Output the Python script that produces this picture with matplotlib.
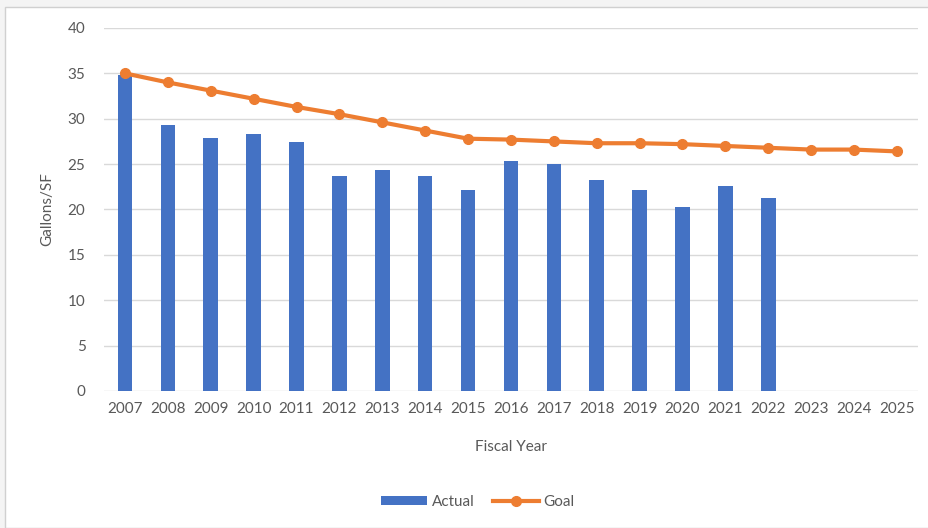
import matplotlib
matplotlib.use("Agg")
from matplotlib import pyplot as plt
from matplotlib.patches import Rectangle
import numpy as np

years = [str(y) for y in range(2007, 2026)]
actual = [34.8, 29.3, 27.9, 28.3, 27.4, 23.7, 24.4, 23.7, 22.1, 25.3,
          25.0, 23.2, 22.2, 20.3, 22.6, 21.3]
goal = [35.0, 34.0, 33.1, 32.2, 31.3, 30.5, 29.6, 28.7, 27.8, 27.7,
        27.5, 27.3, 27.3, 27.2, 27.0, 26.8, 26.6, 26.6, 26.4]

plt.rcParams['font.family'] = ['Lato', 'DejaVu Sans']
txt = "#595959"

fig = plt.figure(figsize=(9.29, 5.28), dpi=100, facecolor="#f4f4f4")
# white chart area with a thin border (gray margin top/left like the screenshot)
fig.add_artist(Rectangle((5/929, 0), 1, 1 - 7/528, transform=fig.transFigure,
                         facecolor="white", edgecolor="#d0d0d0", lw=1, zorder=-10))

ax = fig.add_axes([0.1115, 0.2595, 0.877, 0.6875])
ax.set_facecolor("none")
x = np.arange(len(years))
bars = ax.bar(x[:len(actual)], actual, width=0.34, color="#4472C4", zorder=3, label="Actual")
line, = ax.plot(x, goal, color="#ED7D31", lw=3, marker="o", ms=7, zorder=4, label="Goal")

ax.set_xlim(-0.5, len(years) - 0.5)
ax.set_ylim(0, 40)
ax.set_yticks(range(0, 41, 5))
ax.set_xticks(x)
ax.set_xticklabels(years)
ax.grid(axis="y", color="#d9d9d9", lw=1, zorder=0)
for s in ["top", "right", "left", "bottom"]:
    ax.spines[s].set_visible(False)
ax.tick_params(length=0, colors=txt, labelsize=11)
ax.tick_params(axis="y", pad=13)
ax.tick_params(axis="x", pad=8)
ax.set_ylabel("Gallons/SF", color=txt, fontsize=11)
ax.yaxis.set_label_coords(-0.06, 0.5)
ax.set_xlabel("Fiscal Year", color=txt, fontsize=11, va="center")
ax.xaxis.set_label_coords(0.5, -0.154)

ax.legend([bars, line], ["Actual", "Goal"], loc="center",
          bbox_to_anchor=(478/929, 1 - 502/528), bbox_transform=fig.transFigure,
          ncol=2, frameon=False, fontsize=11, labelcolor=txt, handlelength=3,
          handleheight=0.5, columnspacing=1.2, handletextpad=0.3)

plt.savefig("out.png", dpi=100, facecolor=fig.get_facecolor())
